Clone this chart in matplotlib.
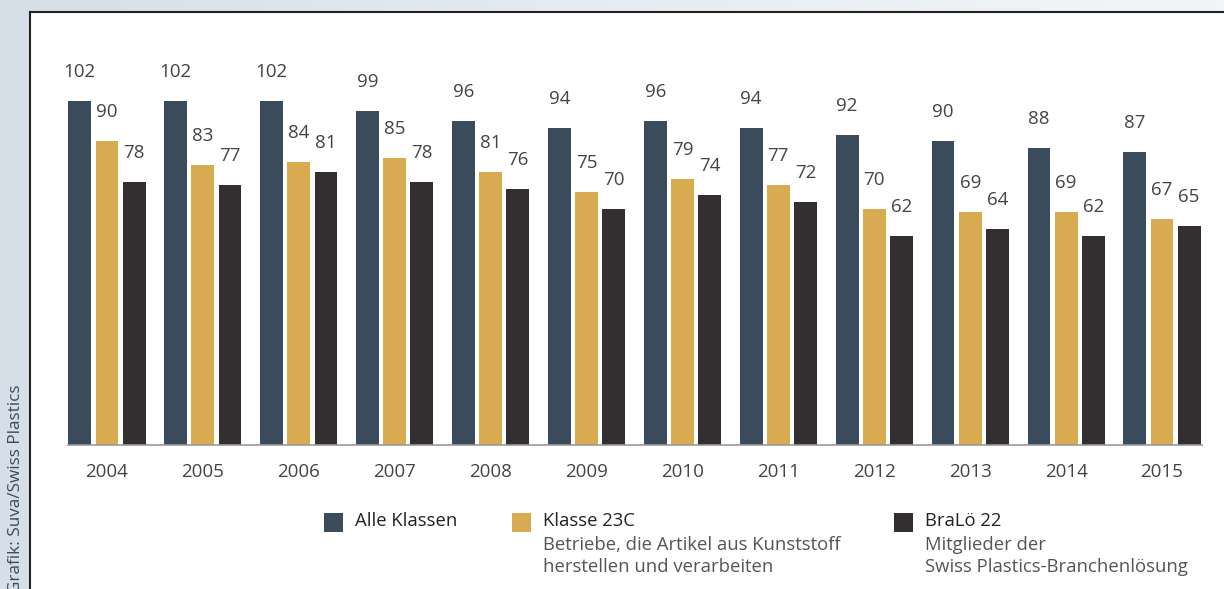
import numpy as np
import matplotlib
matplotlib.use('Agg')
import matplotlib.pyplot as plt
from matplotlib.patches import Rectangle

plt.rcParams['font.family'] = ['Open Sans', 'DejaVu Sans']

# Daten
years = ['2004', '2005', '2006', '2007', '2008', '2009',
         '2010', '2011', '2012', '2013', '2014', '2015']
alle_klassen = [102, 102, 102, 99, 96, 94, 96, 94, 92, 90, 88, 87]
klasse_23c = [90, 83, 84, 85, 81, 75, 79, 77, 70, 69, 69, 67]
bralo_22 = [78, 77, 81, 78, 76, 70, 74, 72, 62, 64, 62, 65]

series = [alle_klassen, klasse_23c, bralo_22]
colors = ['#3a4b5b', '#d7ab50', '#332e2f']
text_col = '#444444'

W, H = 1224, 589
fig = plt.figure(figsize=(W / 100, H / 100), dpi=100)

# Hintergrund mit leichtem Verlauf
bg = fig.add_axes([0, 0, 1, 1], zorder=-10)
grad = np.linspace(0, 1, 256)[None, :]
bg.imshow(grad, aspect='auto', extent=[0, W, 0, H],
          cmap=matplotlib.colors.LinearSegmentedColormap.from_list(
              'bg', ['#d6dfe7', '#e6ecf1', '#f3f6f8']))
bg.add_patch(Rectangle((30, 0), W - 30, H - 12, facecolor='white',
                       edgecolor='none'))
bg.plot([30, 30], [0, H - 12], color='#222222', lw=1.5)
bg.plot([30, W], [H - 12, H - 12], color='#222222', lw=1.5)
bg.set_xlim(0, W)
bg.set_ylim(0, H)
bg.axis('off')

# Balkendiagramm
x0, x1 = 59, 1210
base_y = 445
px_per_unit = (445 - 101) / 102
ymax = 120
ax = fig.add_axes([x0 / W, (H - base_y) / H, (x1 - x0) / W,
                   ymax * px_per_unit / H])
x = np.arange(len(years))
offset = 0.283
width = 0.238
for i, (vals, c) in enumerate(zip(series, colors)):
    pos = x + (i - 1) * offset
    ax.bar(pos, vals, width=width, color=c)
    for p, v in zip(pos, vals):
        ax.text(p, v + 29 / px_per_unit, str(v), ha='center', va='center',
                fontsize=13.5, color=text_col)

ax.set_xlim(-0.5, len(years) - 0.5)
ax.set_ylim(0, ymax)
ax.axis('off')
ax.plot([-0.41, 11.42], [0, 0], color='#999999', lw=1.2, clip_on=False)
for xi, yr in zip(x, years):
    ax.text(xi, -27 / px_per_unit, yr, ha='center', va='center',
            fontsize=13.5, color=text_col)

# Legende
def fx(px):
    return px / W

def fy(py):
    return 1 - py / H

legend = [
    (324, ['Alle Klassen']),
    (512, ['Klasse 23C', 'Betriebe, die Artikel aus Kunststoff',
           'herstellen und verarbeiten']),
    (894, ['BraLö 22', 'Mitglieder der',
           'Swiss Plastics-Branchenlösung']),
]
line_y = [521, 545, 567]
for (lx, lines), c in zip(legend, colors):
    fig.patches.append(Rectangle((fx(lx), fy(532)), 19 / W, 19 / H,
                                 facecolor=c, edgecolor='none',
                                 transform=fig.transFigure, figure=fig))
    for j, t in enumerate(lines):
        fig.text(fx(lx + 31), fy(line_y[j]), t, ha='left', va='center',
                 fontsize=13.3, color='#222222' if j == 0 else '#555555')

# Quelle, vertikal
fig.text(fx(16), fy(593), 'Grafik: Suva/Swiss Plastics', rotation=90,
         ha='center', va='bottom', fontsize=12.3, color='#3a4b5b')

fig.savefig('out.png', dpi=100)
